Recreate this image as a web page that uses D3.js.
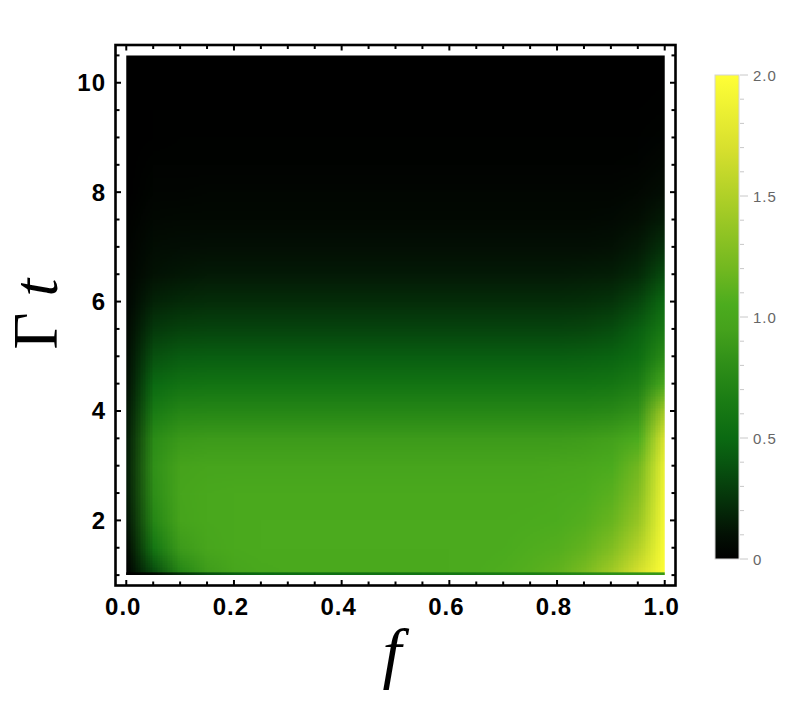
<!DOCTYPE html>
<html>
<head>
<meta charset="utf-8">
<script src="https://cdn.jsdelivr.net/npm/d3@7"></script>
<style>
  body { margin: 0; background: #fff; }
</style>
</head>
<body>
<div id="chart"></div>
<script>
// grid columns (f) and rows (Gamma t, top row first)
const fValues = [0, 0.05, 0.1, 0.15, 0.2, 0.25, 0.3, 0.35, 0.4, 0.45, 0.5,
                 0.55, 0.6, 0.65, 0.7, 0.75, 0.8, 0.85, 0.9, 0.95, 1.0];
const tValues = [10.5, 10, 9.5, 9, 8.5, 8, 7.5, 7, 6.5, 6, 5.5, 5, 4.5, 4, 3.5, 3, 2.5, 2, 1.5, 1];

// values, one row per tValues entry
const density = [
  [0,0,0,0,0,0,0,0,0,0,0,0,0,0,0,0,0,0,0,0,0],
  [0,0.001,0.002,0.002,0.002,0.002,0.002,0.002,0.002,0.002,0.002,0.002,0.002,0.002,0.002,0.002,0.002,0.002,0.002,0.003,0.005],
  [0,0.004,0.005,0.005,0.005,0.005,0.005,0.005,0.005,0.005,0.005,0.005,0.005,0.005,0.005,0.005,0.005,0.005,0.005,0.007,0.012],
  [0,0.008,0.01,0.01,0.01,0.01,0.01,0.01,0.01,0.01,0.01,0.01,0.01,0.01,0.01,0.01,0.01,0.01,0.011,0.014,0.025],
  [0,0.017,0.02,0.02,0.02,0.02,0.02,0.02,0.02,0.02,0.02,0.02,0.02,0.02,0.02,0.02,0.02,0.02,0.021,0.028,0.05],
  [0,0.03,0.034,0.035,0.035,0.035,0.035,0.035,0.035,0.035,0.035,0.035,0.035,0.035,0.035,0.035,0.035,0.035,0.037,0.05,0.09],
  [0.01,0.05,0.056,0.058,0.058,0.058,0.058,0.058,0.058,0.058,0.058,0.058,0.058,0.058,0.058,0.058,0.058,0.058,0.063,0.085,0.15],
  [0.02,0.08,0.09,0.095,0.095,0.095,0.095,0.095,0.095,0.095,0.095,0.095,0.095,0.095,0.095,0.095,0.095,0.096,0.105,0.14,0.24],
  [0.03,0.11,0.13,0.14,0.14,0.14,0.14,0.14,0.14,0.14,0.14,0.14,0.14,0.14,0.14,0.14,0.14,0.15,0.16,0.21,0.36],
  [0.04,0.18,0.21,0.22,0.22,0.22,0.22,0.22,0.22,0.22,0.22,0.22,0.22,0.22,0.22,0.22,0.22,0.23,0.25,0.33,0.52],
  [0.06,0.27,0.31,0.32,0.32,0.32,0.32,0.32,0.32,0.32,0.32,0.32,0.32,0.32,0.32,0.32,0.32,0.33,0.36,0.45,0.64],
  [0.08,0.38,0.43,0.44,0.44,0.44,0.44,0.44,0.44,0.44,0.44,0.44,0.44,0.44,0.44,0.44,0.44,0.45,0.47,0.53,0.78],
  [0.1,0.5,0.57,0.58,0.58,0.58,0.58,0.58,0.58,0.58,0.58,0.58,0.58,0.58,0.58,0.58,0.58,0.58,0.6,0.67,1.03],
  [0.13,0.64,0.73,0.74,0.74,0.74,0.74,0.74,0.74,0.74,0.74,0.74,0.74,0.74,0.74,0.74,0.74,0.74,0.76,0.83,1.45],
  [0.15,0.78,0.88,0.9,0.9,0.9,0.9,0.9,0.9,0.9,0.9,0.9,0.9,0.9,0.9,0.9,0.9,0.91,0.94,1.05,1.75],
  [0.16,0.82,0.96,0.98,0.98,0.98,0.98,0.98,0.98,0.98,0.98,0.98,0.98,0.98,0.98,0.98,0.99,1.0,1.04,1.2,1.88],
  [0.15,0.8,0.98,1.01,1.02,1.02,1.02,1.02,1.02,1.02,1.02,1.02,1.02,1.02,1.02,1.02,1.03,1.05,1.1,1.28,1.92],
  [0.12,0.74,0.97,1.01,1.02,1.03,1.03,1.03,1.03,1.03,1.03,1.03,1.03,1.03,1.03,1.04,1.05,1.08,1.16,1.38,1.95],
  [0.06,0.6,0.9,0.99,1.02,1.03,1.03,1.03,1.03,1.03,1.03,1.03,1.03,1.03,1.04,1.06,1.08,1.14,1.27,1.52,1.98],
  [0,0.32,0.7,0.9,0.98,1.01,1.02,1.02,1.02,1.02,1.02,1.02,1.03,1.04,1.06,1.09,1.14,1.26,1.45,1.72,2.0]
];

// the thin darker line right at Gamma t = 1
const baseRow = [0,0.08,0.25,0.38,0.45,0.5,0.52,0.54,0.55,0.56,0.57,0.58,0.6,0.62,0.64,0.66,0.7,0.75,0.8,0.83,0.88];
const baseTop = 1.05;

const xTicks = [0, 0.2, 0.4, 0.6, 0.8, 1.0];
const xTickLabels = ["0.0", "0.2", "0.4", "0.6", "0.8", "1.0"];
const yTicks = [2, 4, 6, 8, 10];
const yTickLabels = ["2", "4", "6", "8", "10"];

const legendTicks = [0, 0.5, 1, 1.5, 2];
const legendLabels = ["0", "0.5", "1.0", "1.5", "2.0"];

// colour scheme, black -> green -> yellow
const colorValues = [0, 0.1, 0.25, 0.4, 0.5, 0.65, 0.8, 0.95, 1.05, 1.2, 1.45, 1.7, 2.0];
const colorHexes = ["#000000", "#031004", "#05340a", "#085610", "#0b6a12", "#1a7c14", "#2e8e18",
                    "#45a21c", "#4cac1e", "#72b820", "#a6cc26", "#d8e02e", "#ffff36"];

const width = 800, height = 707;

const svg = d3.select("#chart").append("svg")
  .attr("width", width)
  .attr("height", height)
  .style("font-family", "'Liberation Sans', Arial, sans-serif");

const x = d3.scaleLinear().domain([-0.02, 1.02]).range([115.5, 675.5]);
const y = d3.scaleLinear().domain([0.81, 10.69]).range([585.5, 45]);
const color = d3.scaleLinear().domain(colorValues).range(colorHexes)
  .interpolate(d3.interpolateRgb).clamp(true);

function rowsToDataURL(rows) {
  const nx = rows[0].length, ny = rows.length;
  const canvas = document.createElement("canvas");
  canvas.width = nx;
  canvas.height = ny;
  const ctx = canvas.getContext("2d");
  const img = ctx.createImageData(nx, ny);
  rows.forEach((row, j) => row.forEach((v, i) => {
    const c = d3.rgb(color(v));
    const k = (j * nx + i) * 4;
    img.data[k] = c.r;
    img.data[k + 1] = c.g;
    img.data[k + 2] = c.b;
    img.data[k + 3] = 255;
  }));
  ctx.putImageData(img, 0, 0);
  return canvas.toDataURL();
}

const defs = svg.append("defs");
defs.append("clipPath").attr("id", "plot-clip")
  .append("rect")
  .attr("x", x(0))
  .attr("y", y(d3.max(tValues)))
  .attr("width", x(1) - x(0))
  .attr("height", y(d3.min(tValues)) - y(d3.max(tValues)));

const df = fValues[1] - fValues[0];
const dt = tValues[0] - tValues[1];

const plot = svg.append("g").attr("clip-path", "url(#plot-clip)");

plot.append("image")
  .attr("href", rowsToDataURL(density))
  .attr("preserveAspectRatio", "none")
  .attr("x", x(fValues[0] - df / 2))
  .attr("y", y(tValues[0] + dt / 2))
  .attr("width", x(fValues[fValues.length - 1] + df / 2) - x(fValues[0] - df / 2))
  .attr("height", y(tValues[tValues.length - 1] - dt / 2) - y(tValues[0] + dt / 2));

plot.append("image")
  .attr("href", rowsToDataURL([baseRow]))
  .attr("preserveAspectRatio", "none")
  .attr("x", x(fValues[0] - df / 2))
  .attr("y", y(baseTop))
  .attr("width", x(fValues[fValues.length - 1] + df / 2) - x(fValues[0] - df / 2))
  .attr("height", y(1) - y(baseTop));

// frame
const [fx0, fx1] = x.range();
const [fy0, fy1] = y.range(); // bottom, top
svg.append("rect")
  .attr("x", fx0).attr("y", fy1)
  .attr("width", fx1 - fx0).attr("height", fy0 - fy1)
  .attr("fill", "none")
  .attr("stroke", "#000")
  .attr("stroke-width", 2.6);

// ticks inside the frame on all four sides
const xMinor = d3.range(0, 1.0001, 0.05);
const yMinor = d3.range(1, 10.5001, 0.5);
const isMajorX = v => xTicks.some(t => Math.abs(t - v) < 1e-6);
const isMajorY = v => yTicks.some(t => Math.abs(t - v) < 1e-6);
const tickG = svg.append("g").attr("stroke", "#000").attr("stroke-width", 2);

xMinor.forEach(v => {
  const len = isMajorX(v) ? 5.5 : 4;
  tickG.append("line").attr("x1", x(v)).attr("x2", x(v)).attr("y1", fy0).attr("y2", fy0 - len);
  tickG.append("line").attr("x1", x(v)).attr("x2", x(v)).attr("y1", fy1).attr("y2", fy1 + len);
});
yMinor.forEach(v => {
  const len = isMajorY(v) ? 5.5 : 4;
  tickG.append("line").attr("y1", y(v)).attr("y2", y(v)).attr("x1", fx0).attr("x2", fx0 + len);
  tickG.append("line").attr("y1", y(v)).attr("y2", y(v)).attr("x1", fx1).attr("x2", fx1 - len);
});

// tick labels
svg.append("g").selectAll("text")
  .data(xTicks)
  .join("text")
  .attr("x", d => x(d) - 3)
  .attr("y", 615)
  .attr("text-anchor", "middle")
  .attr("font-size", 24)
  .attr("font-weight", "bold")
  .attr("letter-spacing", 1)
  .text((d, i) => xTickLabels[i]);

svg.append("g").selectAll("text")
  .data(yTicks)
  .join("text")
  .attr("x", 106)
  .attr("y", d => y(d) + 8.5)
  .attr("text-anchor", "end")
  .attr("font-size", 24)
  .attr("font-weight", "bold")
  .attr("letter-spacing", 1)
  .text((d, i) => yTickLabels[i]);

// axis titles
const yTitle = svg.append("text")
  .attr("transform", "translate(57,314) rotate(-90)")
  .attr("text-anchor", "middle")
  .attr("font-family", "'Liberation Serif', 'Times New Roman', serif")
  .attr("font-size", 64);
yTitle.append("tspan").text("Γ ");
yTitle.append("tspan").attr("font-style", "italic").text("t");

svg.append("text")
  .attr("x", 392)
  .attr("y", 676)
  .attr("text-anchor", "middle")
  .attr("font-family", "'Liberation Serif', 'Times New Roman', serif")
  .attr("font-size", 68)
  .attr("font-style", "italic")
  .text("f");

// colour legend
const lx = 715, lw = 24;
const ly = d3.scaleLinear().domain([0, 2]).range([559, 75]);

const grad = defs.append("linearGradient")
  .attr("id", "legend-grad")
  .attr("x1", 0).attr("y1", 1).attr("x2", 0).attr("y2", 0);
grad.selectAll("stop")
  .data(colorValues)
  .join("stop")
  .attr("offset", d => d / 2)
  .attr("stop-color", d => color(d));

svg.append("rect")
  .attr("x", lx).attr("y", ly(2))
  .attr("width", lw).attr("height", ly(0) - ly(2))
  .attr("fill", "url(#legend-grad)")
  .attr("stroke", "#d4d4d4")
  .attr("stroke-width", 1);

const legMinor = d3.range(0, 2.0001, 0.1);
svg.append("g").selectAll("line")
  .data(legMinor)
  .join("line")
  .attr("x1", lx + lw + 1)
  .attr("x2", d => lx + lw + (legendTicks.some(t => Math.abs(t - d) < 1e-6) ? 9 : 5))
  .attr("y1", d => ly(d)).attr("y2", d => ly(d))
  .attr("stroke", "#c8c8c8")
  .attr("stroke-width", 1);

svg.append("g").selectAll("text")
  .data(legendTicks)
  .join("text")
  .attr("x", 753)
  .attr("y", d => ly(d) + 5.5)
  .attr("font-size", 15)
  .attr("letter-spacing", 1)
  .attr("fill", "#666")
  .text((d, i) => legendLabels[i]);
</script>
</body>
</html>
